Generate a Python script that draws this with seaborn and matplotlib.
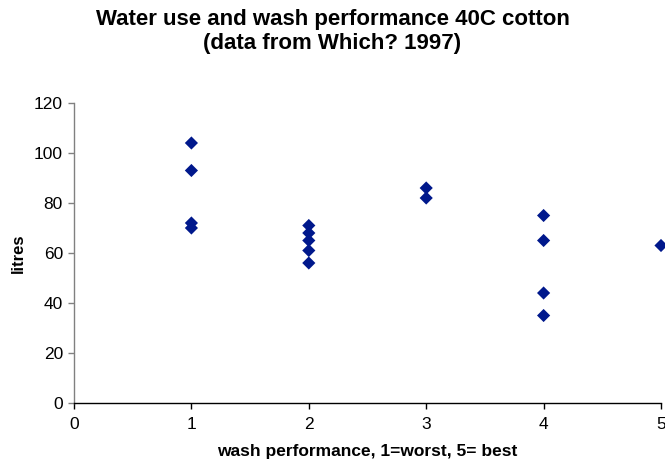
import matplotlib
matplotlib.use("Agg")
import matplotlib.pyplot as plt
import seaborn as sns
import pandas as pd

# Wash performance rating (1=worst, 5=best) and water use in litres
performance = [1, 1, 1, 1,
               2, 2, 2, 2, 2,
               3, 3,
               4, 4, 4, 4,
               5]
litres = [104, 93, 72, 70,
          71, 68, 65, 61, 56,
          86, 82,
          75, 65, 44, 35,
          63]

title = "Water use and wash performance 40C cotton\n(data from Which? 1997)"
x_label = "wash performance, 1=worst, 5= best"
y_label = "litres"
x_ticks = [0, 1, 2, 3, 4, 5]
y_ticks = [0, 20, 40, 60, 80, 100, 120]

df = pd.DataFrame({"performance": performance, "litres": litres})

sns.set_theme(style="white")
plt.rcParams["font.family"] = ["Liberation Sans", "DejaVu Sans"]
plt.rcParams["text.color"] = "black"
plt.rcParams["axes.labelcolor"] = "black"

fig = plt.figure(figsize=(6.65, 4.62), dpi=100)
ax = fig.add_axes([74 / 665, 1 - 403 / 462, (661 - 74) / 665, 300 / 462])

sns.scatterplot(data=df, x="performance", y="litres", ax=ax,
                marker="D", s=45, color="#00188c", edgecolor="none",
                clip_on=False, zorder=3)

ax.set_xlim(0, 5)
ax.set_ylim(0, 120)
ax.set_xticks(x_ticks)
ax.set_yticks(y_ticks)
ax.tick_params(axis="both", which="both", direction="out", length=4, width=1,
               labelsize=12.5, labelcolor="black", bottom=True, left=True)
ax.tick_params(axis="x", color="black", pad=6)
ax.tick_params(axis="y", color="#808080", pad=4)

for side in ("top", "right"):
    ax.spines[side].set_visible(False)
ax.spines["left"].set_color("#808080")
ax.spines["left"].set_linewidth(1)
ax.spines["bottom"].set_color("black")
ax.spines["bottom"].set_linewidth(1)

ax.set_xlabel(x_label, fontsize=12.5, fontweight="bold", labelpad=9, color="black")
ax.set_ylabel(y_label, fontsize=12, fontweight="bold", labelpad=6, color="black")

fig.text(0.5, 1 - 9 / 462, title, ha="center", va="top", color="black",
         fontsize=16, fontweight="bold", linespacing=1.2)

fig.savefig("out.png", dpi=100)
